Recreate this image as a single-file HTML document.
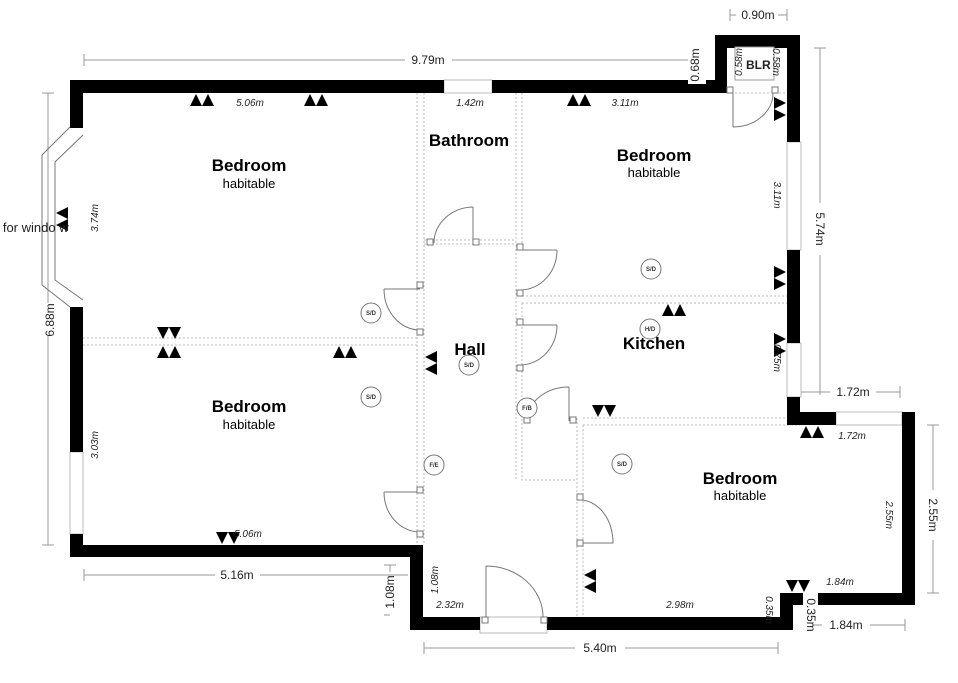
<!DOCTYPE html>
<html><head><meta charset="utf-8"><style>
html,body{margin:0;padding:0;background:#fff;}
svg{display:block;font-family:"Liberation Sans",Arial,sans-serif;}
.d{stroke:#999;stroke-width:1;fill:none}
.dim{font-size:12px;fill:#222}
.it{font-size:10px;font-style:italic;fill:#222}
.rm{font-size:17px;font-weight:bold;fill:#000}
.hb{font-size:13px;fill:#000}
.dot{stroke:#bbb;stroke-width:1;stroke-dasharray:2,2;fill:none}
.dr{stroke:#777;stroke-width:1;fill:none}
.sq{stroke:#777;stroke-width:1;fill:#fff}
.c{stroke:#777;fill:#fff}
.ct{font-size:6px;font-weight:bold;fill:#333}
.win{fill:#fff;stroke:#bbb;stroke-width:1}
</style></head><body>
<svg width="958" height="683" viewBox="0 0 958 683" xmlns="http://www.w3.org/2000/svg">
<g class="d">
<path d="M84 54v12M84 60H405M452 60H690"/>
<path d="M730 9v12M730 15h6M778 15h9M787 9v12"/>
<path d="M42 93h12M48 93v210M48 335v210M42 545h12"/>
<path d="M814 48h12M820 48v155M820 255v140"/>
<path d="M800 392h30M876 392h24M900 386v12"/>
<path d="M927 425h12M933 425v65M933 540v53M927 593h12"/>
<path d="M84 569v12M84 575H215M260 575H408"/>
<path d="M384 565h12M390 565v7M390 615h-6v0"/>
<path d="M424 642v12M424 648H575M625 648H778M778 642v12"/>
<path d="M812 625h10M870 625h35M905 619v12"/>
<path d="M672 60h16"/>
</g>
<g class="dot">
<path d="M417 93V545M424 93V545"/>
<path d="M516 93V480M522 93V245"/>
<path d="M83 338H417M83 345H417"/>
<path d="M522 296H787M522 303H787"/>
<path d="M424 240H516M424 244H516"/>
<path d="M583 418H787M583 425H800"/>
<path d="M522 303V480H577V425M577 418V617M583 425V617"/>
<path d="M727 93h60"/>
</g>
<rect class="win" x="444" y="80" width="48" height="13"/>
<rect class="win" x="787" y="142" width="14" height="108"/>
<rect class="win" x="787" y="343" width="14" height="54"/>
<rect class="win" x="836" y="412" width="66" height="13"/>
<rect class="win" x="70" y="452" width="13" height="82"/>
<rect class="win" x="480" y="617" width="67" height="16"/>
<path class="dr" d="M70 127L42 155V285L70 307M83 135L55 162V280L83 300"/>
<g fill="#000">
<rect x="70" y="80" width="374" height="13"/>
<rect x="492" y="80" width="235" height="13"/>
<rect x="715" y="35" width="12" height="58"/>
<rect x="715" y="35" width="85" height="13"/>
<rect x="787" y="35" width="13" height="107"/>
<rect x="787" y="250" width="13" height="93"/>
<rect x="787" y="397" width="13" height="28"/>
<rect x="787" y="412" width="49" height="13"/>
<rect x="902" y="412" width="13" height="193"/>
<rect x="818" y="593" width="97" height="12"/>
<rect x="780" y="593" width="23" height="12"/>
<rect x="780" y="593" width="13" height="37"/>
<rect x="547" y="617" width="246" height="13"/>
<rect x="410" y="617" width="70" height="13"/>
<rect x="410" y="545" width="13" height="85"/>
<rect x="70" y="545" width="353" height="12"/>
<rect x="70" y="80" width="13" height="48"/>
<rect x="70" y="307" width="13" height="145"/>
<rect x="70" y="534" width="13" height="23"/>
</g>
<rect x="688" y="46" width="18" height="38" fill="#fff"/>
<rect x="735" y="47" width="39" height="33" fill="#fff" stroke="#999"/>
<g class="dr">
<path d="M473 207V243M473 207A40 36 0 0 0 434 243"/>
<path d="M384 289H420M384 289A36 41 0 0 0 420 330"/>
<path d="M384 492H420M384 492A36 40 0 0 0 420 532"/>
<path d="M520 250H557M557 250A37 40 0 0 1 520 290"/>
<path d="M520 325H557M557 325A37 40 0 0 1 520 365"/>
<path d="M569 387V421M569 387A42 34 0 0 0 527 421"/>
<path d="M580 500A33 43 0 0 1 613 543H580"/>
<path d="M486 566V617M486 566A57 51 0 0 1 543 617"/>
<path d="M733 93V127M733 127A40 34 0 0 0 773 93"/>
</g>
<g class="sq">
<rect x="427" y="239" width="6" height="6"/><rect x="473" y="239" width="6" height="6"/>
<rect x="417" y="282" width="6" height="6"/><rect x="417" y="329" width="6" height="6"/>
<rect x="417" y="487" width="6" height="6"/><rect x="417" y="531" width="6" height="6"/>
<rect x="517" y="244" width="6" height="6"/><rect x="517" y="290" width="6" height="6"/>
<rect x="517" y="319" width="6" height="6"/><rect x="517" y="365" width="6" height="6"/>
<rect x="524" y="417" width="6" height="6"/><rect x="570" y="417" width="6" height="6"/>
<rect x="577" y="494" width="6" height="6"/><rect x="577" y="540" width="6" height="6"/>
<rect x="482" y="617" width="6" height="6"/><rect x="541" y="617" width="6" height="6"/>
<rect x="727" y="87" width="6" height="6"/><rect x="772" y="87" width="6" height="6"/>
</g>
<g>
<circle class="c" cx="371" cy="313" r="10"/><text class="ct" x="371" y="315" text-anchor="middle">S/D</text>
<circle class="c" cx="371" cy="397" r="10"/><text class="ct" x="371" y="399" text-anchor="middle">S/D</text>
<circle class="c" cx="469" cy="365" r="10"/><text class="ct" x="469" y="367" text-anchor="middle">S/D</text>
<circle class="c" cx="651" cy="269" r="10"/><text class="ct" x="651" y="271" text-anchor="middle">S/D</text>
<circle class="c" cx="650" cy="329" r="10"/><text class="ct" x="650" y="331" text-anchor="middle">H/D</text>
<circle class="c" cx="527" cy="408" r="10"/><text class="ct" x="527" y="410" text-anchor="middle">F/B</text>
<circle class="c" cx="434" cy="465" r="10"/><text class="ct" x="434" y="467" text-anchor="middle">F/E</text>
<circle class="c" cx="622" cy="464" r="10"/><text class="ct" x="622" y="466" text-anchor="middle">S/D</text>
</g>
<g fill="#000">
<path d="M190 106l6-12 6 12zM202 106l6-12 6 12z"/>
<path d="M304 106l6-12 6 12zM316 106l6-12 6 12z"/>
<path d="M567 106l6-12 6 12zM579 106l6-12 6 12z"/>
<path d="M774 97l12 6-12 6zM774 109l12 6-12 6z"/>
<path d="M68 207l-12 6 12 6zM68 219l-12 6 12 6z"/>
<path d="M157 327l6 12 6-12zM169 327l6 12 6-12z"/>
<path d="M157 358l6-12 6 12zM169 358l6-12 6 12z"/>
<path d="M333 358l6-12 6 12zM345 358l6-12 6 12z"/>
<path d="M437 351l-12 6 12 6zM437 363l-12 6 12 6z"/>
<path d="M662 316l6-12 6 12zM674 316l6-12 6 12z"/>
<path d="M592 405l6 12 6-12zM604 405l6 12 6-12z"/>
<path d="M774 266l12 6-12 6zM774 278l12 6-12 6z"/>
<path d="M774 333l12 6-12 6zM774 345l12 6-12 6z"/>
<path d="M800 438l6-12 6 12zM812 438l6-12 6 12z"/>
<path d="M216 532l6 12 6-12zM228 532l6 12 6-12z"/>
<path d="M596 569l-12 6 12 6zM596 581l-12 6 12 6z"/>
<path d="M786 580l6 12 6-12zM798 580l6 12 6-12z"/>
</g>
<g class="dim">
<text x="428" y="64" text-anchor="middle">9.79m</text>
<text x="758" y="19" text-anchor="middle">0.90m</text>
<text transform="translate(699,65) rotate(-90)" text-anchor="middle">0.68m</text>
<text transform="translate(816,229) rotate(90)" text-anchor="middle">5.74m</text>
<text x="853" y="396" text-anchor="middle">1.72m</text>
<text transform="translate(929,515) rotate(90)" text-anchor="middle">2.55m</text>
<text x="237" y="579" text-anchor="middle">5.16m</text>
<text transform="translate(394,592) rotate(-90)" text-anchor="middle">1.08m</text>
<text x="600" y="652" text-anchor="middle">5.40m</text>
<text x="846" y="629" text-anchor="middle">1.84m</text>
<text transform="translate(807,615) rotate(90)" text-anchor="middle">0.35m</text>
<text transform="translate(54,320) rotate(-90)" text-anchor="middle">6.88m</text>
<text x="-8" y="232" font-size="13">n for windo w</text>
<text x="746" y="69" font-size="12" font-weight="bold">BLR</text>
</g>
<g class="it">
<text x="250" y="106" text-anchor="middle">5.06m</text>
<text x="470" y="106" text-anchor="middle">1.42m</text>
<text x="625" y="106" text-anchor="middle">3.11m</text>
<text x="248" y="537" text-anchor="middle">5.06m</text>
<text x="450" y="608" text-anchor="middle">2.32m</text>
<text x="680" y="608" text-anchor="middle">2.98m</text>
<text x="840" y="585" text-anchor="middle">1.84m</text>
<text x="852" y="439" text-anchor="middle">1.72m</text>
<text transform="translate(98,218) rotate(-90)" text-anchor="middle">3.74m</text>
<text transform="translate(98,445) rotate(-90)" text-anchor="middle">3.03m</text>
<text transform="translate(438,580) rotate(-90)" text-anchor="middle">1.08m</text>
<text transform="translate(774,195) rotate(90)" text-anchor="middle">3.11m</text>
<text transform="translate(774,358) rotate(90)" text-anchor="middle">0.75m</text>
<text transform="translate(886,515) rotate(90)" text-anchor="middle">2.55m</text>
<text transform="translate(766,610) rotate(90)" text-anchor="middle">0.35m</text>
<text transform="translate(742,62) rotate(-90)" text-anchor="middle">0.58m</text>
<text transform="translate(773,62) rotate(90)" text-anchor="middle">0.58m</text>
</g>
<g text-anchor="middle">
<text class="rm" x="249" y="171">Bedroom</text><text class="hb" x="249" y="188">habitable</text>
<text class="rm" x="469" y="146">Bathroom</text>
<text class="rm" x="654" y="161">Bedroom</text><text class="hb" x="654" y="177">habitable</text>
<text class="rm" x="470" y="355">Hall</text>
<text class="rm" x="654" y="349">Kitchen</text>
<text class="rm" x="249" y="412">Bedroom</text><text class="hb" x="249" y="429">habitable</text>
<text class="rm" x="740" y="484">Bedroom</text><text class="hb" x="740" y="500">habitable</text>
</g>
</svg>
</body></html>
